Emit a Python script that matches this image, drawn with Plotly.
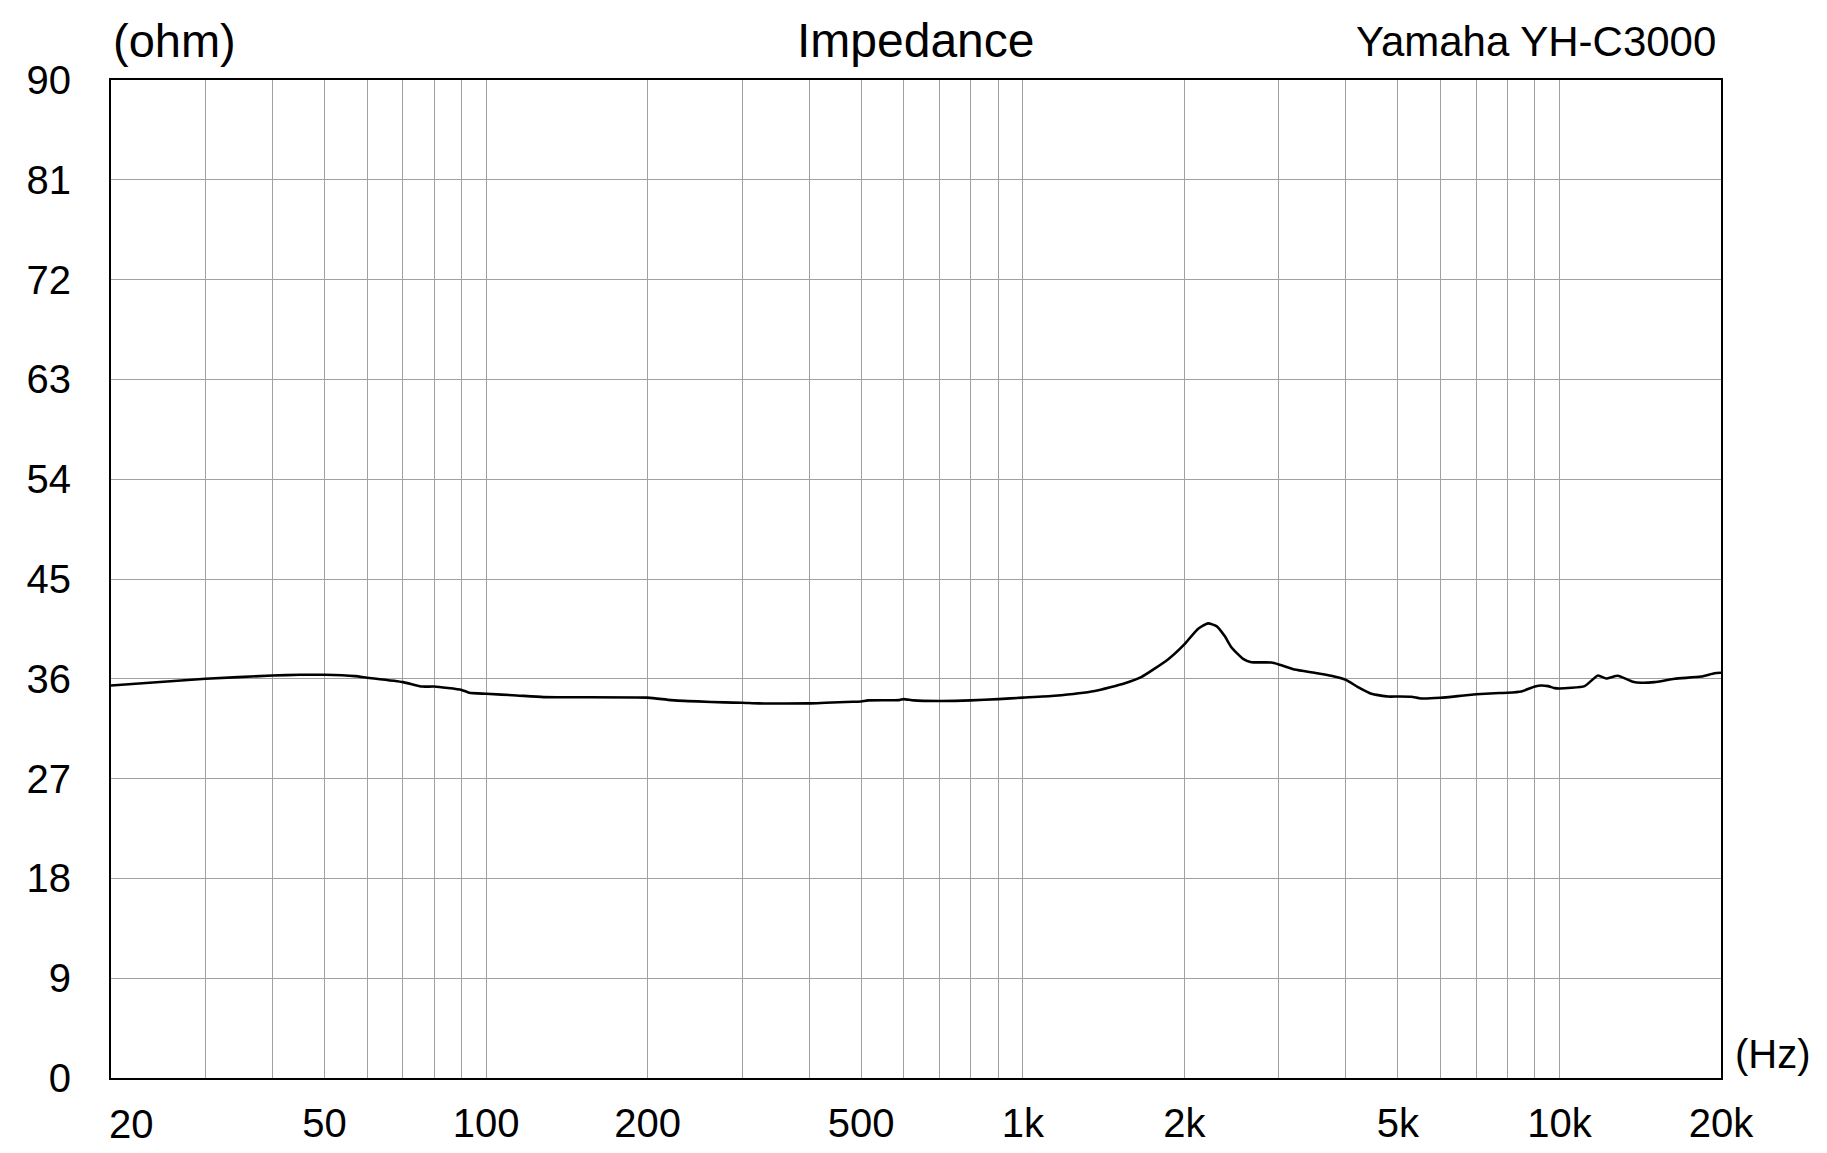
import plotly.graph_objects as go

# impedance curve
freq = [20, 30, 40, 45, 50, 57, 60, 70, 76, 80, 90, 93, 100, 114, 128,
        200, 221, 248, 278, 300, 322, 400, 429, 482, 500, 515, 589, 600,
        626, 700, 800, 900, 1000, 1146, 1362, 1550, 1662, 1864, 2000,
        2120, 2214, 2296, 2378, 2447, 2574, 2666, 2904, 3000, 3210, 3498,
        3757, 4000, 4213, 4461, 4789, 5000, 5295, 5526, 6000, 6562, 7000,
        7571, 8000, 8489, 9000, 9249, 9520, 9796, 10000, 11140, 11795,
        12220, 12850, 13700, 14200, 15040, 16390, 18370, 19450, 20000]
ohm = [35.4, 36.0, 36.3, 36.36, 36.36, 36.24, 36.1, 35.7, 35.3, 35.3,
       35.0, 34.74, 34.65, 34.5, 34.35, 34.3, 34.08, 33.96, 33.87, 33.84,
       33.78, 33.78, 33.84, 33.93, 33.96, 34.05, 34.08, 34.17, 34.05,
       34.0, 34.05, 34.17, 34.3, 34.47, 34.9, 35.6, 36.15, 37.74, 39.1,
       40.5, 41.0, 40.75, 39.85, 38.85, 37.8, 37.5, 37.47, 37.3, 36.84,
       36.54, 36.27, 35.9, 35.25, 34.65, 34.4, 34.4, 34.38, 34.23, 34.29,
       34.47, 34.6, 34.7, 34.74, 34.86, 35.3, 35.4, 35.34, 35.16, 35.13,
       35.34, 36.3, 36.03, 36.27, 35.73, 35.64, 35.7, 36.0, 36.2, 36.5,
       36.54]

x_tick_vals = [50, 100, 200, 500, 1000, 2000, 5000, 10000, 20000]
x_tick_text = ['50', '100', '200', '500', '1k', '2k', '5k', '10k', '20k']
x_grid = [30, 40, 50, 60, 70, 80, 90,
          100, 200, 300, 400, 500, 600, 700, 800, 900,
          1000, 2000, 3000, 4000, 5000, 6000, 7000, 8000, 9000, 10000]
y_ticks = [0, 9, 18, 27, 36, 45, 54, 63, 72, 81, 90]

FONT = 'Liberation Sans, Arial, sans-serif'
GRID = '#a0a0a0'

fig = go.Figure()
fig.add_trace(go.Scatter(x=freq, y=ohm, mode='lines',
                         line=dict(color='black', width=2.6, shape='spline', smoothing=0.5),
                         showlegend=False, hoverinfo='skip'))

fig.update_xaxes(type='log', range=[1.30103, 4.30103],
                 tickmode='array', tickvals=x_tick_vals, ticktext=x_tick_text,
                 showgrid=False, ticks='', ticklabelstandoff=9,
                 tickfont=dict(family=FONT, size=40, color='black'),
                 minor=dict(tickmode='array', tickvals=x_grid, showgrid=True,
                            gridcolor=GRID, gridwidth=1.2, ticks=''),
                 showline=True, mirror=True, linecolor='black', linewidth=2,
                 zeroline=False)
fig.update_yaxes(range=[0, 90], tickmode='array', tickvals=y_ticks,
                 showgrid=True, gridcolor=GRID, gridwidth=1.2, ticks='',
                 ticklabelstandoff=30,
                 tickfont=dict(family=FONT, size=40, color='black'),
                 showline=True, mirror=True, linecolor='black', linewidth=2,
                 zeroline=False)

# labels around the frame
fig.add_annotation(text='Impedance', xref='paper', yref='paper', x=0.5, y=1,
                   xanchor='center', yanchor='bottom', yshift=11, showarrow=False,
                   font=dict(family=FONT, size=48, color='black'))
fig.add_annotation(text='(ohm)', xref='paper', yref='paper', x=0, y=1,
                   xanchor='left', yanchor='bottom', xshift=0, yshift=11, showarrow=False,
                   font=dict(family=FONT, size=47, color='black'))
fig.add_annotation(text='Yamaha YH-C3000', xref='paper', yref='paper', x=1, y=1,
                   xanchor='right', yanchor='bottom', xshift=-3, yshift=13, showarrow=False,
                   font=dict(family=FONT, size=42, color='black'))
fig.add_annotation(text='(Hz)', xref='paper', yref='paper', x=1, y=0,
                   xanchor='left', yanchor='bottom', xshift=12, yshift=0, showarrow=False,
                   font=dict(family=FONT, size=40, color='black'))
fig.add_annotation(text='20', xref='x', yref='paper', x=1.30103, y=0,
                   xanchor='left', yanchor='top', xshift=-4, yshift=-22, showarrow=False,
                   font=dict(family=FONT, size=40, color='black'))

fig.update_layout(width=1827, height=1153,
                  margin=dict(l=103, r=114, t=72, b=83),
                  plot_bgcolor='white', paper_bgcolor='white')

fig.write_html("out.html")
